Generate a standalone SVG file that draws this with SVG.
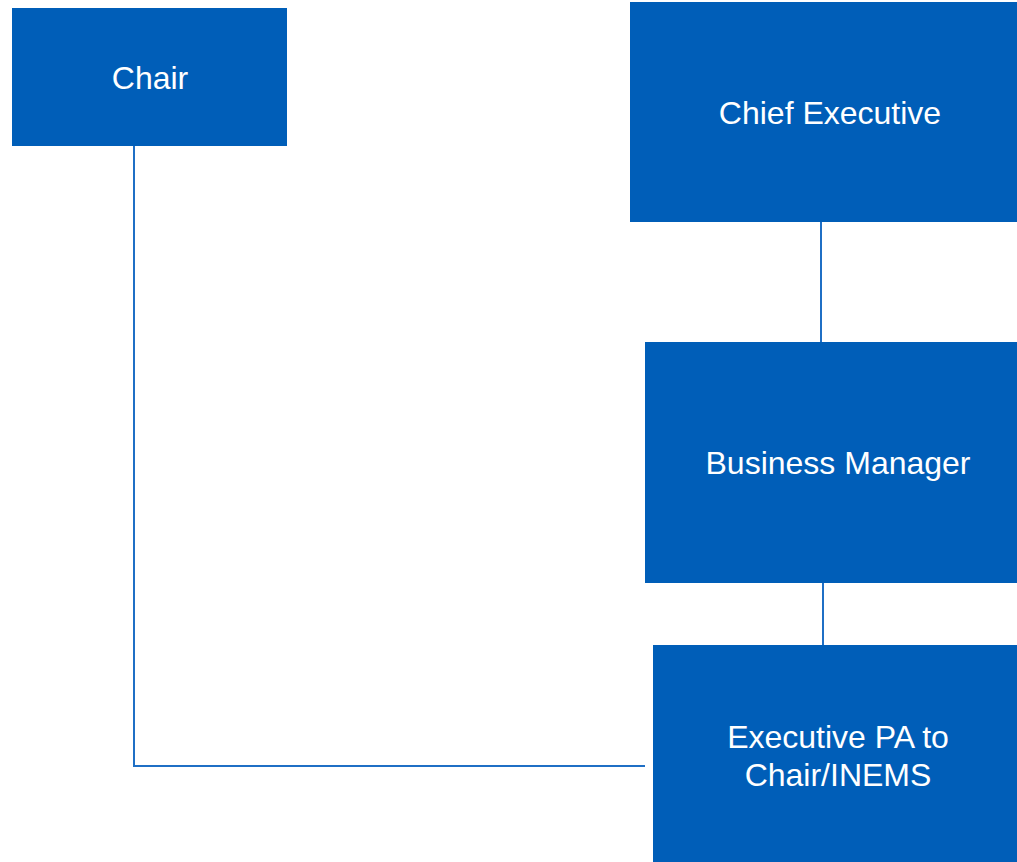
<svg xmlns="http://www.w3.org/2000/svg" width="1017" height="862" viewBox="0 0 1017 862">
<style>
.box{fill:#005EB8}
.t{fill:#fff;font-family:"Liberation Sans",Arial,sans-serif;font-size:32px;text-anchor:middle}
.c{stroke:#1F6FC5;stroke-width:2;fill:none}
</style>
<rect width="1017" height="862" fill="#fff"/>
<g id="connectors">
<polyline class="c" points="134,146 134,766 645,766"/>
<line class="c" x1="821" y1="222" x2="821" y2="342"/>
<line class="c" x1="823" y1="582" x2="823" y2="645"/>
</g>
<g id="chair"><rect class="box" x="12" y="8" width="275" height="138"/><text class="t" x="150" y="89">Chair</text></g>
<g id="chief-executive"><rect class="box" x="630" y="2" width="387" height="220"/><text class="t" x="830" y="124">Chief Executive</text></g>
<g id="business-manager"><rect class="box" x="645" y="342" width="372" height="241"/><text class="t" x="838" y="474">Business Manager</text></g>
<g id="executive-pa"><rect class="box" x="653" y="645" width="364" height="217"/><text class="t" x="838" y="748">Executive PA to</text><text class="t" x="838" y="786">Chair/INEMS</text></g>
</svg>
